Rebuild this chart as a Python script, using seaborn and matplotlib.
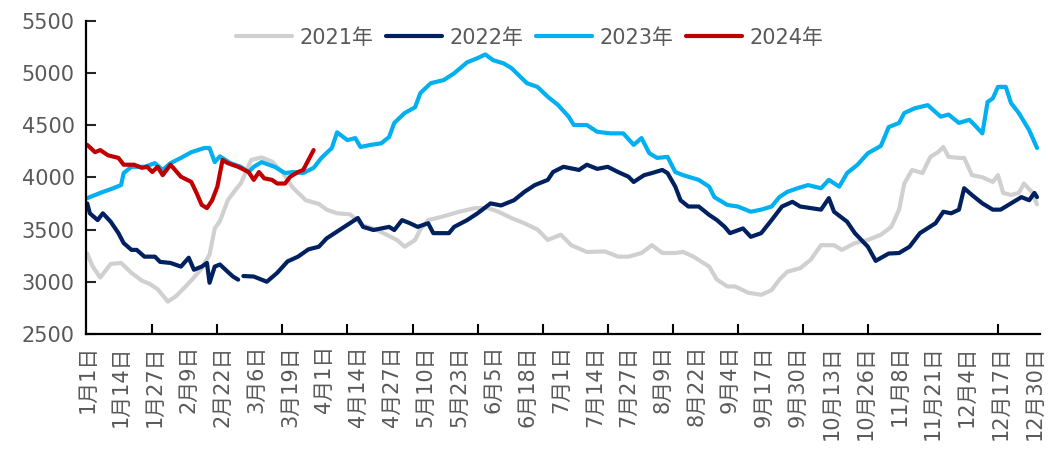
import numpy as np
import pandas as pd
import seaborn as sns
import matplotlib.pyplot as plt

# series names and colours
years = ['2021年', '2022年', '2023年', '2024年']
colors = ['#D0D0D0', '#002060', '#00B0F0', '#C00000']

# day of year (0 = 1月1日) and price
days_2021 = [0, 2, 5, 9, 13, 17, 21, 24, 27, 29, 31, 34, 38, 41, 44, 47, 49, 51, 54, 57,
             59, 63, 67, 71, 75, 79, 84, 89, 92, 96, 101, 106, 111, 115, 119, 122, 126, 128, 131, 136,
             143, 149, 154, 158, 163, 168, 173, 177, 182, 186, 192, 199, 204, 208, 213, 217, 221, 226, 229, 233,
             239, 242, 246, 249, 254, 259, 263, 266, 269, 274, 278, 282, 287, 290, 295, 300, 305, 309, 312, 314,
             317, 321, 324, 327, 329, 331, 335, 337, 340, 344, 348, 350, 352, 355, 358, 360, 363, 365]
price_2021 = [3270, 3150, 3040, 3170, 3180, 3085, 3010, 2980, 2930, 2870, 2810, 2860, 2960, 3040, 3130, 3260, 3510, 3580, 3780, 3880,
              3940, 4165, 4190, 4150, 4050, 3900, 3780, 3745, 3690, 3655, 3645, 3540, 3500, 3450, 3400, 3335, 3400, 3500, 3590, 3620,
              3670, 3705, 3705, 3670, 3610, 3560, 3500, 3400, 3450, 3350, 3285, 3290, 3240, 3240, 3275, 3350, 3275, 3275, 3285, 3240,
              3145, 3020, 2955, 2955, 2895, 2875, 2920, 3020, 3095, 3130, 3210, 3350, 3350, 3305, 3370, 3400, 3450, 3525, 3690, 3940,
              4070, 4040, 4195, 4240, 4290, 4195, 4185, 4185, 4020, 4000, 3955, 4020, 3850, 3830, 3850, 3940, 3860, 3740]

days_2022 = [0, 1, 4, 6, 9, 12, 14, 17, 19, 22, 26, 28, 32, 36, 39, 41, 44, 46, 47, 49,
             51, 54, 56, 58, 59, 60, 64, 67, 69, 73, 77, 81, 85, 89, 92, 96, 100, 104, 106, 110,
             116, 118, 121, 124, 127, 131, 133, 139, 141, 146, 150, 155, 159, 164, 168, 172, 177, 179, 183, 189,
             192, 196, 200, 204, 208, 210, 214, 217, 221, 223, 226, 228, 231, 235, 239, 242, 245, 247, 252, 255,
             259, 263, 267, 271, 274, 278, 282, 285, 287, 292, 295, 300, 303, 308, 312, 316, 320, 326, 329, 332,
             335, 337, 340, 344, 348, 351, 355, 359, 362, 364, 365]
price_2022 = [3750, 3655, 3590, 3655, 3575, 3465, 3370, 3305, 3305, 3240, 3240, 3190, 3180, 3145, 3230, 3115, 3145, 3180, 2990, 3145,
              3165, 3095, 3050, 3020, np.nan, 3055, 3050, 3020, 3000, 3085, 3195, 3240, 3310, 3335, 3415, 3480, 3545, 3610, 3525, 3495,
              3525, 3495, 3590, 3560, 3525, 3560, 3465, 3465, 3525, 3590, 3655, 3750, 3730, 3780, 3860, 3925, 3975, 4050, 4100, 4070,
              4120, 4080, 4100, 4050, 4005, 3955, 4020, 4040, 4070, 4040, 3910, 3780, 3720, 3720, 3640, 3590, 3525, 3465, 3510, 3430,
              3465, 3590, 3720, 3765, 3720, 3705, 3690, 3800, 3670, 3575, 3465, 3335, 3200, 3270, 3275, 3335, 3465, 3560, 3670, 3655,
              3690, 3895, 3830, 3750, 3690, 3690, 3750, 3810, 3780, 3850, 3810]

days_2023 = [0, 5, 10, 13, 14, 17, 19, 22, 26, 29, 32, 36, 40, 45, 47, 49, 51, 55, 59, 62,
             64, 67, 72, 76, 79, 83, 87, 90, 94, 96, 100, 103, 105, 109, 113, 116, 118, 122, 126, 128,
             132, 137, 141, 146, 150, 153, 156, 160, 163, 169, 173, 177, 181, 185, 187, 192, 196, 201, 206, 210,
             213, 216, 219, 223, 226, 229, 235, 239, 241, 246, 250, 255, 259, 263, 266, 269, 273, 277, 282, 285,
             289, 292, 296, 300, 305, 308, 312, 314, 318, 323, 328, 331, 335, 339, 341, 344, 346, 348, 350, 353,
             355, 358, 362, 365]
price_2023 = [3800, 3850, 3895, 3925, 4040, 4100, 4100, 4100, 4135, 4070, 4135, 4185, 4240, 4280, 4280, 4145, 4200, 4135, 4100, 4050,
              4100, 4145, 4100, 4040, 4050, 4040, 4090, 4185, 4280, 4430, 4355, 4375, 4290, 4310, 4325, 4385, 4520, 4615, 4670, 4805,
              4900, 4930, 4995, 5100, 5140, 5175, 5120, 5090, 5045, 4900, 4865, 4770, 4690, 4580, 4500, 4500, 4435, 4420, 4420, 4310,
              4375, 4230, 4185, 4195, 4050, 4020, 3975, 3910, 3810, 3735, 3720, 3670, 3690, 3720, 3810, 3860, 3895, 3925, 3895, 3975,
              3910, 4040, 4120, 4230, 4300, 4480, 4520, 4615, 4660, 4690, 4580, 4600, 4520, 4550, 4500, 4420, 4720, 4755, 4865, 4865,
              4710, 4615, 4450, 4280]

days_2024 = [0, 3, 5, 8, 12, 14, 18, 21, 23, 25, 27, 29, 32, 36, 40, 42, 44, 46, 48, 50,
             52, 54, 58, 62, 64, 66, 68, 71, 73, 76, 78, 81, 83, 85, 87]
price_2024 = [4310, 4240, 4260, 4210, 4185, 4120, 4120, 4090, 4100, 4050, 4100, 4020, 4120, 4005, 3955, 3850, 3735, 3705, 3780, 3910,
              4165, 4135, 4100, 4050, 3975, 4050, 3990, 3975, 3940, 3940, 4005, 4050, 4070, 4165, 4260]

xtick_pos = list(range(0, 365, 13))
xtick_labels = ['1月1日', '1月14日', '1月27日', '2月9日', '2月22日', '3月6日', '3月19日', '4月1日',
                '4月14日', '4月27日', '5月10日', '5月23日', '6月5日', '6月18日', '7月1日', '7月14日',
                '7月27日', '8月9日', '8月22日', '9月4日', '9月17日', '9月30日', '10月13日', '10月26日',
                '11月8日', '11月21日', '12月4日', '12月17日', '12月30日']

# long table; 'seg' splits a series where the data has a gap
frames = []
for name, d, p in zip(years, [days_2021, days_2022, days_2023, days_2024],
                      [price_2021, price_2022, price_2023, price_2024]):
    f = pd.DataFrame({'day': d, 'price': p})
    f['seg'] = f['price'].isna().cumsum()
    f['year'] = name
    frames.append(f.dropna())
df = pd.concat(frames, ignore_index=True)

sns.set_style('ticks')
plt.rcParams['font.family'] = ['DejaVu Sans', 'Noto Sans CJK SC']

fig = plt.figure(figsize=(10.48, 4.61), dpi=100)
ax = fig.add_axes([0.082, 0.2755, 0.91, 0.68])

sns.lineplot(data=df, x='day', y='price', hue='year', units='seg', estimator=None,
             hue_order=years, palette=dict(zip(years, colors)), linewidth=3.0, sort=False, ax=ax)

ax.set_xlim(-0.5, 366)
ax.set_ylim(2500, 5500)
ax.set_yticks(range(2500, 5501, 500))
ax.set_xticks(xtick_pos)
ax.set_xticklabels(xtick_labels, rotation=90)
ax.set_xticks(range(25, 366, 25), minor=True)
ax.set_xlabel('')
ax.set_ylabel('')

ax.tick_params(axis='x', which='major', length=0, pad=8, labelsize=15, labelcolor='#595959')
ax.tick_params(axis='x', which='minor', length=7, width=1.5, direction='in', color='black')
ax.tick_params(axis='y', length=7, width=1.5, direction='in', labelsize=15, labelcolor='#595959', pad=8)
for s in ['left', 'bottom']:
    ax.spines[s].set_linewidth(1.6)
    ax.spines[s].set_color('black')
sns.despine(ax=ax)

sns.move_legend(ax, 'center', bbox_to_anchor=(0.465, 0.945), ncol=4, frameon=False, title=None,
                fontsize=15, handlelength=2.7, handletextpad=0.35, columnspacing=0.6)
for t in ax.get_legend().get_texts():
    t.set_color('#595959')

fig.savefig('out.png', dpi=100)
